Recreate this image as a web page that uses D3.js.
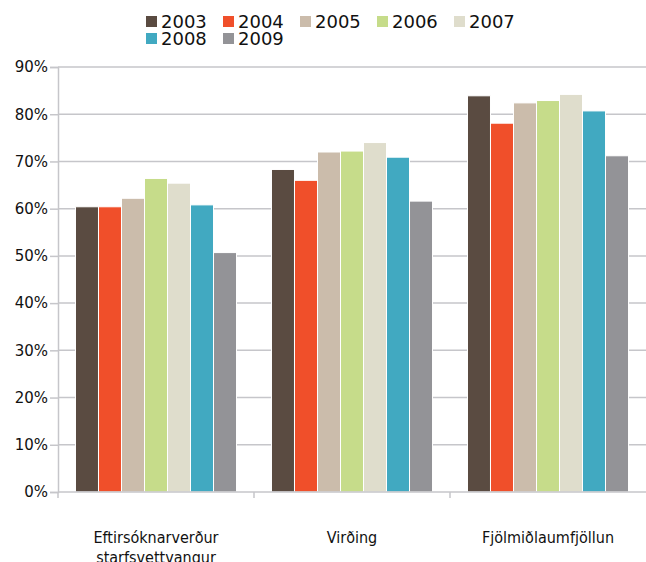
<!DOCTYPE html>
<html>
<head>
<meta charset="utf-8">
<script src="https://cdn.jsdelivr.net/npm/d3@7"></script>
<style>
  body { margin: 0; background: #fff; }
  svg { display: block; }
</style>
</head>
<body>
<div id="chart"></div>
<script>
// data
let categories = [["Eftirsóknarverður", "starfsvettvangur"], ["Virðing"], ["Fjölmiðlaumfjöllun"]];
let years = ["2003", "2004", "2005", "2006", "2007", "2008", "2009"];
let colors = ["#5a4b41", "#f04f2a", "#cbbcab", "#c6dc8a", "#dfddcc", "#41a9c1", "#939397"];
let v2003 = [0.604, 0.683, 0.839];
let v2004 = [0.604, 0.660, 0.781];
let v2005 = [0.622, 0.720, 0.824];
let v2006 = [0.664, 0.722, 0.829];
let v2007 = [0.654, 0.740, 0.842];
let v2008 = [0.608, 0.709, 0.807];
let v2009 = [0.507, 0.616, 0.712];
let yTicks = [0, 0.1, 0.2, 0.3, 0.4, 0.5, 0.6, 0.7, 0.8, 0.9];

let series = [v2003, v2004, v2005, v2006, v2007, v2008, v2009];
let width = 646, height = 562;
let margin = {top: 67, right: 0, bottom: 70, left: 58};

let svg = d3.select("#chart").append("svg")
  .attr("width", width)
  .attr("height", height);

let catKeys = categories.map(c => c.join(" "));

let x0 = d3.scaleBand()
  .domain(catKeys)
  .range([margin.left, width - margin.right])
  .padding(0);

let x1 = d3.scaleBand()
  .domain(years)
  .range([0, x0.bandwidth()])
  .paddingInner(0)
  .paddingOuter(0.76);

let y = d3.scaleLinear()
  .domain([0, 0.9])
  .range([height - margin.bottom, margin.top]);

let gridColor = "#c6c6ca";

// grid + left ticks
let yAxis = svg.append("g")
  .attr("transform", "translate(" + margin.left + ",0)")
  .call(d3.axisLeft(y).tickValues(yTicks).tickFormat(d3.format(".0%"))
        .tickSize(8).tickPadding(2));
yAxis.select(".domain").attr("stroke", gridColor).attr("stroke-width", 1.5);
yAxis.selectAll(".tick line").attr("stroke", gridColor).attr("stroke-width", 1.5);
yAxis.selectAll(".tick text")
  .attr("font-family", "DejaVu Sans, sans-serif")
  .attr("font-size", 15)
  .attr("fill", "#111");

svg.append("g").selectAll("line")
  .data(yTicks.filter(d => d > 0))
  .enter().append("line")
  .attr("x1", margin.left)
  .attr("x2", width - margin.right)
  .attr("y1", d => y(d))
  .attr("y2", d => y(d))
  .attr("stroke", gridColor)
  .attr("stroke-width", 1.5);

// bars
let groups = svg.append("g").selectAll("g")
  .data(catKeys)
  .enter().append("g")
  .attr("transform", d => "translate(" + x0(d) + ",0)");

groups.selectAll("rect")
  .data((d, ci) => years.map((yr, i) => ({year: yr, value: series[i][ci], color: colors[i]})))
  .enter().append("rect")
  .attr("x", d => x1(d.year))
  .attr("width", x1.bandwidth())
  .attr("y", d => y(d.value))
  .attr("height", d => y(0) - y(d.value))
  .attr("fill", d => d.color)
  .attr("stroke", "#fff")
  .attr("stroke-width", 1);

// bottom axis
let xAxis = svg.append("g")
  .attr("transform", "translate(0," + y(0) + ")");
xAxis.append("line")
  .attr("x1", margin.left).attr("x2", width)
  .attr("stroke", gridColor).attr("stroke-width", 1.5);
xAxis.selectAll("line.tk")
  .data(catKeys)
  .enter().append("line")
  .attr("class", "tk")
  .attr("x1", d => x0(d)).attr("x2", d => x0(d))
  .attr("y1", 0).attr("y2", 6)
  .attr("stroke", gridColor).attr("stroke-width", 1.5);

let labels = svg.append("g").selectAll("text")
  .data(categories)
  .enter().append("text")
  .attr("x", (d, i) => x0(catKeys[i]) + x0.bandwidth() / 2)
  .attr("y", 543)
  .attr("text-anchor", "middle")
  .attr("font-family", "DejaVu Sans Condensed, DejaVu Sans, sans-serif")
  .attr("font-size", 16)
  .attr("fill", "#111");
labels.selectAll("tspan")
  .data(d => d)
  .enter().append("tspan")
  .attr("x", function() { return d3.select(this.parentNode).attr("x"); })
  .attr("dy", (d, i) => i === 0 ? 0 : 20)
  .text(d => d);

// legend
let legend = svg.append("g");
let legItems = legend.selectAll("g")
  .data(years)
  .enter().append("g")
  .attr("transform", (d, i) => "translate(" + (146 + (i % 5) * 77) + "," + (16 + Math.floor(i / 5) * 17) + ")");
legItems.append("rect")
  .attr("width", 11).attr("height", 11)
  .attr("fill", (d, i) => colors[i]);
legItems.append("text")
  .attr("x", 15).attr("y", 12)
  .attr("font-family", "DejaVu Sans, sans-serif")
  .attr("font-size", 18)
  .attr("fill", "#111")
  .text(d => d);
</script>
</body>
</html>
